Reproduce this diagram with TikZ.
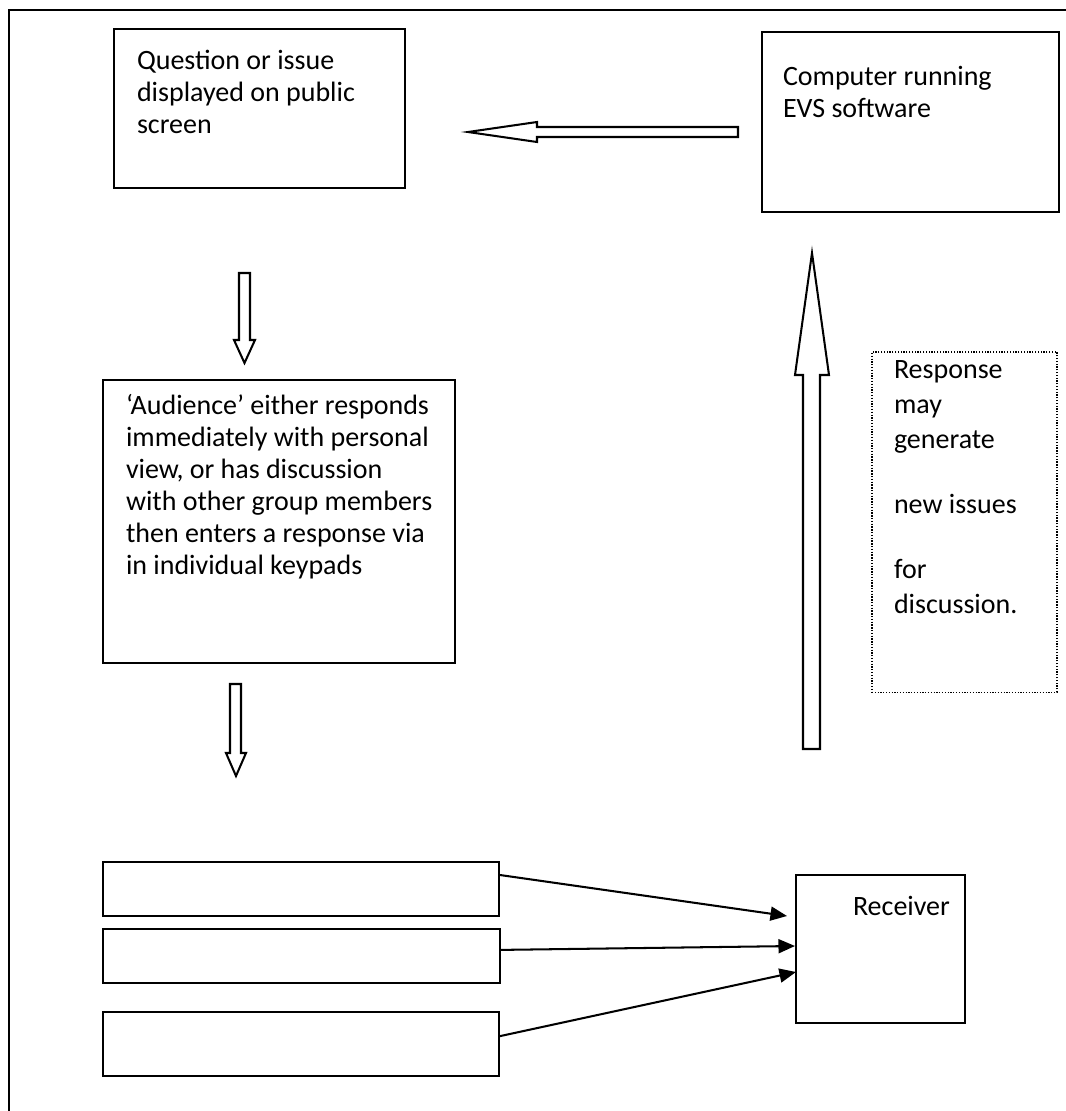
\documentclass[tikz,border=0pt]{standalone}
\usepackage{fontspec}
\setmainfont{Carlito}
\usetikzlibrary{arrows.meta,fit,positioning}

\begin{document}
\begin{tikzpicture}[x=0.393pt,y=-0.393pt,every path/.style={thick},
    box/.style={draw,inner sep=0pt},
    note/.style={draw,thin,dash pattern=on 0.5pt off 0.6pt,inner sep=0pt},
    txt/.style={anchor=north west,inner sep=0pt,align=left,font=\fontsize{11}{12.6}\selectfont},
    blockarrow/.style={draw,fill=white,line join=miter},
    wire/.style={-{Triangle[length=6.5pt,width=5.5pt]}}]
  \useasboundingbox (0,0) rectangle (1065,1111);
  \draw (9,1120) -- (9,10) -- (1075,10);

  \node[box,fit={(114,29) (405,188)}] (screen) {};
  \node[txt] (screentxt) at (136,49) {Question or issue\\displayed on public\\screen};
  \node[box,fit={(762,32) (1059,212)}] (evs) {};
  \node[txt] (evstxt) at (782,65) {Computer running\\EVS software};
  \node[box,fit={(103,380) (455,663)}] (audience) {};
  \node[txt] (audiencetxt) at (125,393) {‘Audience’ either responds\\immediately with personal\\view, or has discussion\\with other group members\\then enters a response via\\in individual keypads};
  \node[note,fit={(872,352) (1057,692)}] (feedback) {};
  \node[txt,font=\fontsize{11}{13.75}\selectfont] (feedbacktxt) at (893,360)
    {Response\\may\\generate\\[11.8pt]new issues\\[11.8pt]for\\discussion.};

  \node[box,fit={(103,862) (499,916)}] (kpA) {};
  \node[box,fit={(103,929) (500,983)}] (kpB) {};
  \node[box,fit={(103,1012) (499,1076)}] (kpC) {};
  \node[box,fit={(796,875) (965,1023)}] (rcv) {};
  \node[txt] (rcvtxt) at (852,895) {Receiver};

  % block arrows
  \draw[blockarrow] (738,127) -- (537,127) -- (537,122) -- (468,132) -- (537,142) -- (537,137) -- (738,137) -- cycle;
  \draw[blockarrow] (239,273) -- (239,340) -- (234,340) -- (244.5,363) -- (255,340) -- (250,340) -- (250,273) -- cycle;
  \draw[blockarrow] (230,684) -- (230,753) -- (226,753) -- (236,776) -- (246,753) -- (241,753) -- (241,684) -- cycle;
  \draw[blockarrow] (803,749) -- (803,375) -- (795,375) -- (812,253) -- (829,375) -- (820,375) -- (820,749) -- cycle;

  \coordinate (inA) at (787,916);
  \coordinate (inB) at (795,946);
  \coordinate (inC) at (796,972);
  \draw[wire] ([yshift=5.5pt]kpA.east) -- (inA);
  \draw[wire] ([yshift=2.4pt]kpB.east) -- (inB);
  \draw[wire] ([yshift=3.1pt]kpC.east) -- (inC);
\end{tikzpicture}
\end{document}
